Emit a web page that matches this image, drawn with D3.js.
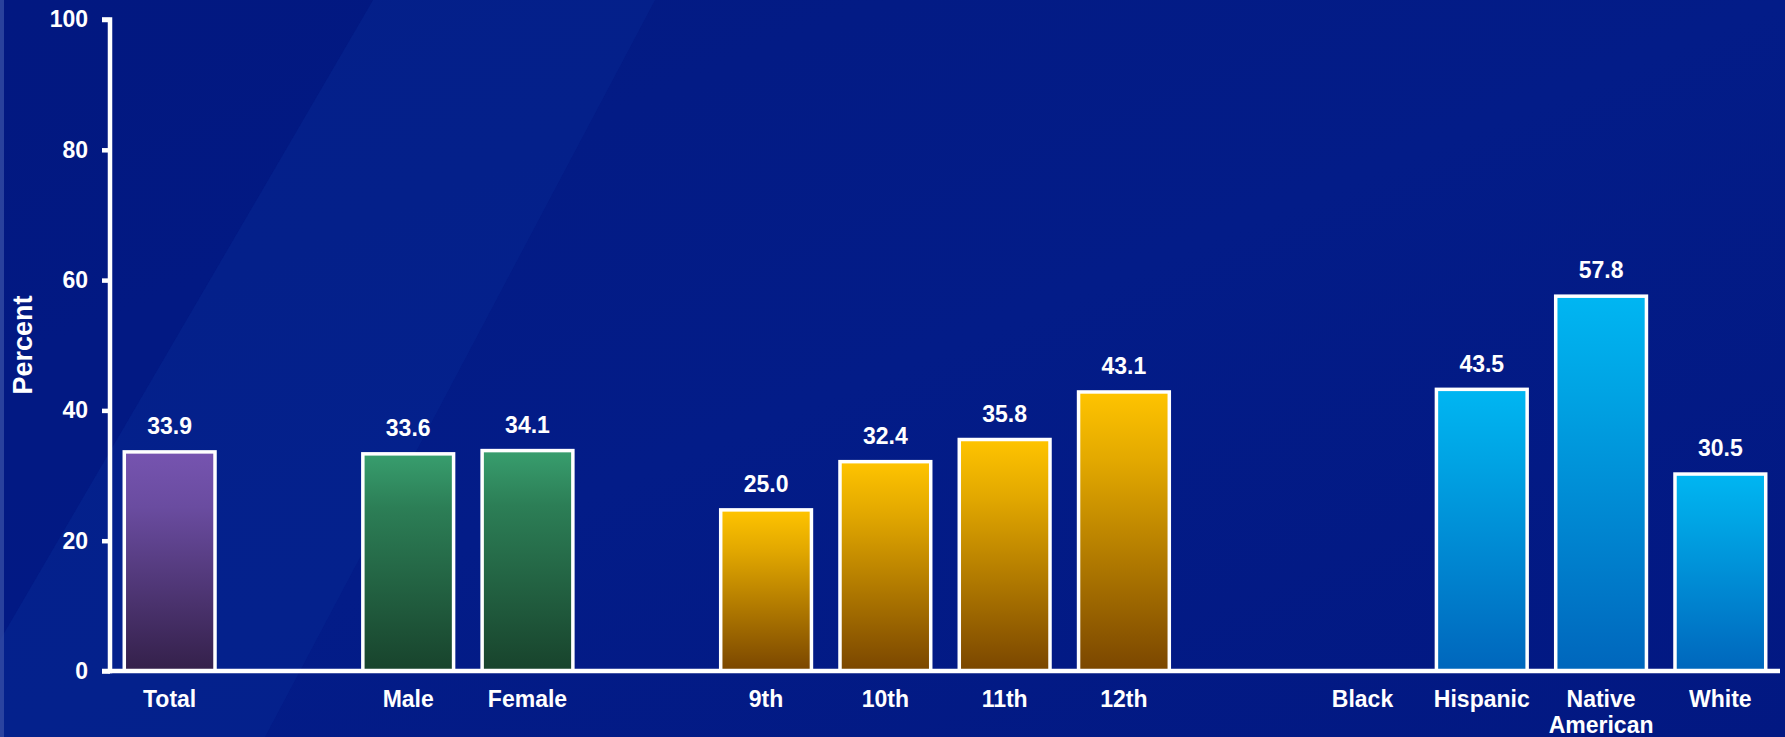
<!DOCTYPE html>
<html>
<head>
<meta charset="utf-8">
<script src="https://cdn.jsdelivr.net/npm/d3@7"></script>
<style>
  html, body { margin: 0; padding: 0; background: #021b84; }
  svg { display: block; }
  text { font-family: "Liberation Sans", Arial, sans-serif; font-weight: bold; fill: #ffffff; }
</style>
</head>
<body>
<svg id="chart" width="1785" height="737"></svg>
<script>
// ---- data ----
const categories = ["Total", "", "Male", "Female", " ", "9th", "10th", "11th", "12th", "  ", "Black", "Hispanic", "Native American", "White"];
const values     = [33.9, null, 33.6, 34.1, null, 25.0, 32.4, 35.8, 43.1, null, null, 43.5, 57.8, 30.5];
const groups     = ["total", null, "sex", "sex", null, "grade", "grade", "grade", "grade", null, "race", "race", "race", "race"];
const yTicks     = [0, 20, 40, 60, 80, 100];
const yLabel     = "Percent";

const groupGradients = {
  total: ["#7654b0", "#6a4ca0", "#34204a"],
  sex:   ["#389e6e", "#2c7e56", "#18432c"],
  grade: ["#ffc400", "#e2a800", "#7a4600"],
  race:  ["#00b6f2", "#00a4e4", "#0066bc"]
};

const svg = d3.select("#chart");
const W = 1785, H = 737;

// ---- background ----
const defs = svg.append("defs");
const bg = defs.append("linearGradient").attr("id", "bg").attr("x1", 0).attr("y1", 0).attr("x2", 1).attr("y2", 1);
bg.append("stop").attr("offset", "0%").attr("stop-color", "#031a82");
bg.append("stop").attr("offset", "50%").attr("stop-color", "#031c88");
bg.append("stop").attr("offset", "100%").attr("stop-color", "#021882");
svg.append("rect").attr("width", W).attr("height", H).attr("fill", "url(#bg)");
svg.append("path").attr("d", "M373,0 L655,0 L265,737 L0,737 L0,640 Z").attr("fill", "#0a2a96").attr("opacity", 0.35);
svg.append("path").attr("d", "M0,0 L373,0 L0,640 Z").attr("fill", "#021680").attr("opacity", 0.4);
svg.append("rect").attr("x", 0).attr("y", 0).attr("width", 4).attr("height", H).attr("fill", "#3a52a8").attr("opacity", 0.7);

// gradients per group
Object.entries(groupGradients).forEach(([k, c]) => {
  const g = defs.append("linearGradient").attr("id", "grad-" + k)
    .attr("x1", 0).attr("y1", 0).attr("x2", 0).attr("y2", 1);
  g.append("stop").attr("offset", "0%").attr("stop-color", c[0]);
  g.append("stop").attr("offset", "25%").attr("stop-color", c[1]);
  g.append("stop").attr("offset", "100%").attr("stop-color", c[2]);
});

// ---- scales ----
const x = d3.scaleBand().domain(categories).range([110, 1780]).paddingInner(0.21).paddingOuter(0.105);
const y = d3.scaleLinear().domain([0, 100]).range([671, 19.5]);

const sw = 3.5;
const data = categories.map((c, i) => ({ c, v: values[i], g: groups[i] }));

// bars
svg.append("g").selectAll("rect")
  .data(data.filter(d => d.v != null))
  .join("rect")
  .attr("x", d => x(d.c) + sw / 2)
  .attr("width", x.bandwidth() - sw)
  .attr("y", d => y(d.v) + sw / 2)
  .attr("height", d => y(0) - y(d.v) - sw / 2)
  .attr("fill", d => "url(#grad-" + d.g + ")")
  .attr("stroke", "#ffffff")
  .attr("stroke-width", sw);

// value labels
svg.append("g").selectAll("text")
  .data(data.filter(d => d.v != null))
  .join("text")
  .attr("x", d => x(d.c) + x.bandwidth() / 2)
  .attr("y", d => y(d.v) - 16)
  .attr("text-anchor", "middle")
  .attr("font-size", 23)
  .text(d => d.v.toFixed(1));

// ---- axes ----
const yAxis = d3.axisLeft(y).tickValues(yTicks).tickSize(8).tickPadding(14).tickFormat(d3.format("d"));
const gy = svg.append("g").attr("transform", "translate(110,0)").call(yAxis);
gy.select(".domain").attr("stroke", "#fff").attr("stroke-width", 4.5).attr("d", `M-8,${y(100)}H0V${y(0)}H-8`);
gy.selectAll(".tick line").attr("stroke", "#fff").attr("stroke-width", 4.5);
gy.selectAll(".tick text").attr("font-size", 23).attr("font-family", "Liberation Sans, Arial, sans-serif").attr("font-weight", "bold").attr("fill", "#fff");

// x axis baseline
svg.append("line").attr("x1", 108).attr("x2", 1780).attr("y1", y(0)).attr("y2", y(0))
  .attr("stroke", "#fff").attr("stroke-width", 4.5);

// x labels
const xl = svg.append("g").selectAll("text")
  .data(data.filter(d => d.c.trim() !== ""))
  .join("text")
  .attr("x", d => x(d.c) + x.bandwidth() / 2)
  .attr("y", 707)
  .attr("text-anchor", "middle")
  .attr("font-size", 23);
xl.each(function(d) {
  const words = d.c === "Native American" ? ["Native", "American"] : [d.c];
  const t = d3.select(this);
  words.forEach((w, i) => {
    t.append("tspan").attr("x", x(d.c) + x.bandwidth() / 2).attr("dy", i === 0 ? 0 : 26).text(w);
  });
});

// y label
svg.append("text")
  .attr("transform", "translate(32,345) rotate(-90)")
  .attr("text-anchor", "middle")
  .attr("font-size", 27)
  .text(yLabel);
</script>
</body>
</html>
